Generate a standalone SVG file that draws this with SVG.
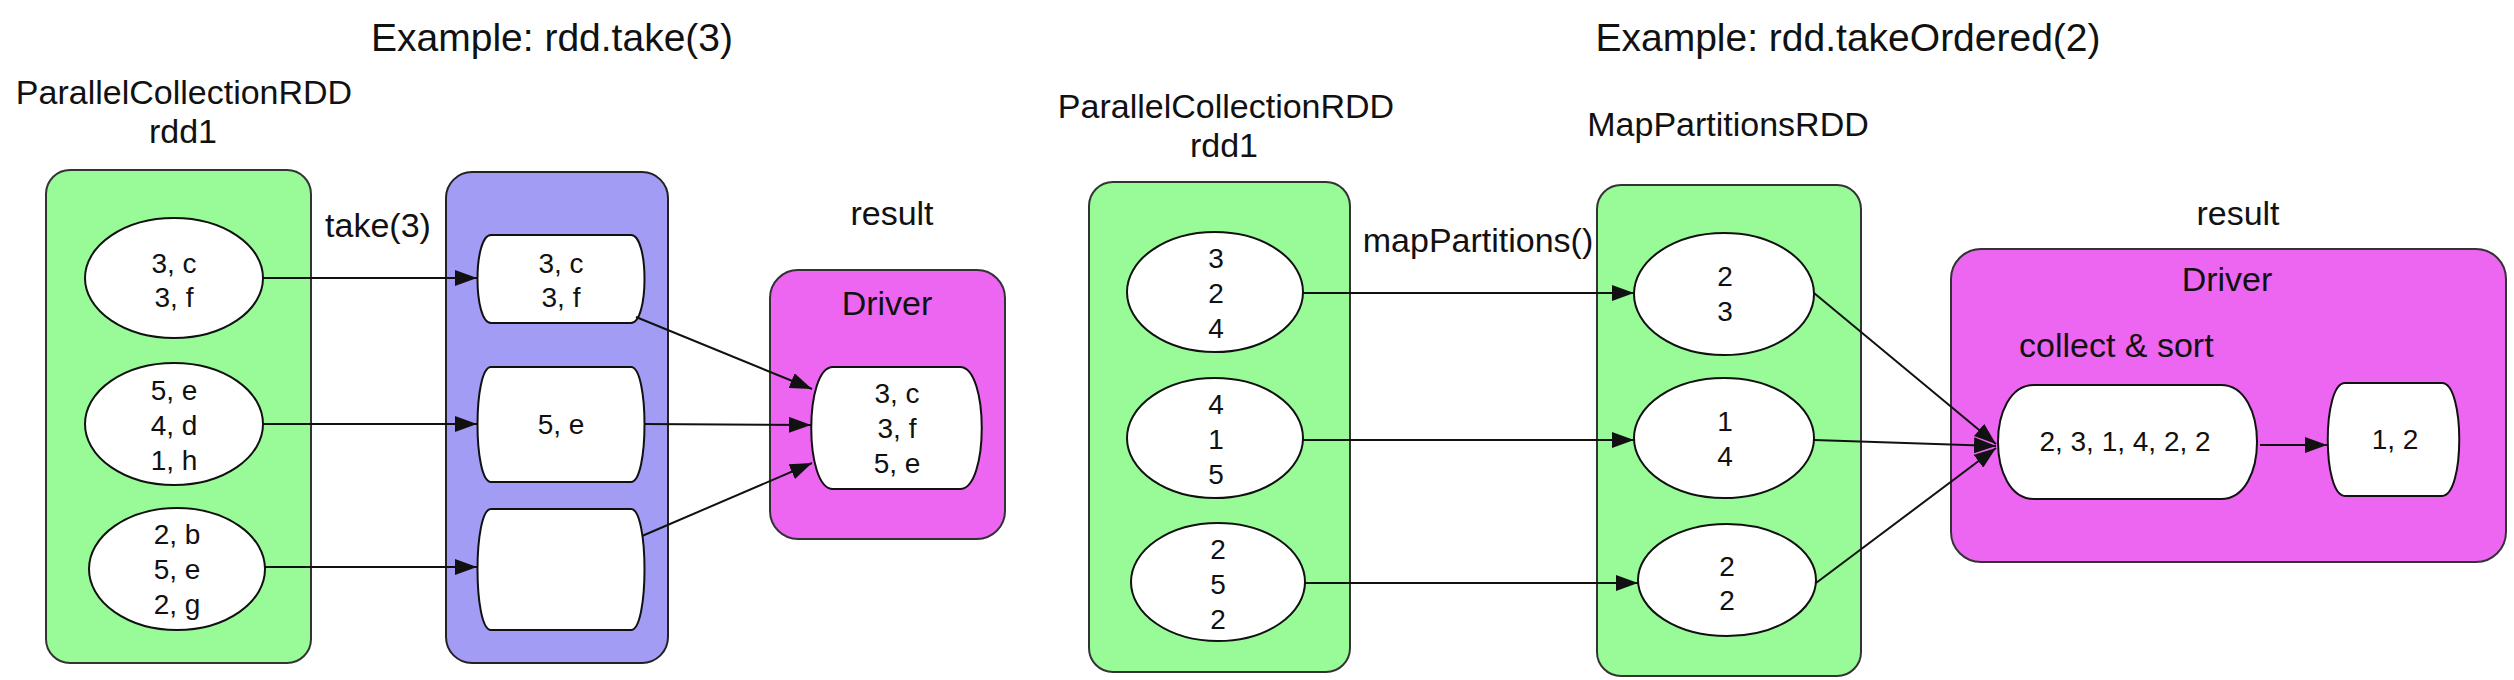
<svg xmlns="http://www.w3.org/2000/svg" width="2514" height="680" viewBox="0 0 2514 680">
<style>
text{font-family:"Liberation Sans",Arial,sans-serif;fill:#111;}
.title{font-size:39px;text-anchor:middle;}
.lbl{font-size:34px;text-anchor:middle;}
.lbls{font-size:34px;}
.nt{font-size:28px;text-anchor:middle;}
.green{fill:#98fb98;stroke:#333;stroke-width:2;}
.purple{fill:#a29cf5;stroke:#222;stroke-width:2;}
.magenta{fill:#ed66f2;stroke:#333;stroke-width:2;}
.node{fill:#fff;stroke:#111;stroke-width:2;}
.edge{fill:none;stroke:#111;stroke-width:2;marker-end:url(#arr);}
</style>
<defs>
<marker id="arr" viewBox="0 0 22 16" refX="22" refY="8" markerWidth="22" markerHeight="16" markerUnits="userSpaceOnUse" orient="auto">
<path d="M0,0 L22,8 L0,16 Z" fill="#111"/>
</marker>
</defs>
<rect width="2514" height="680" fill="#fff"/>

<!-- Diagram 1 -->
<text class="title" x="552" y="51">Example: rdd.take(3)</text>

<g id="rdd1a">
<text class="lbl" x="184" y="104">ParallelCollectionRDD</text>
<text class="lbl" x="183" y="143">rdd1</text>
<rect class="green" x="46" y="170" width="265" height="493" rx="24"/>
</g>
<g id="a_e1"><ellipse class="node" cx="174" cy="278" rx="89" ry="60"/><text class="nt" x="174" y="273">3, c</text><text class="nt" x="174" y="307">3, f</text></g>
<g id="a_e2"><ellipse class="node" cx="174" cy="424" rx="89" ry="61"/><text class="nt" x="174" y="400">5, e</text><text class="nt" x="174" y="435">4, d</text><text class="nt" x="174" y="470">1, h</text></g>
<g id="a_e3"><ellipse class="node" cx="177" cy="569" rx="88" ry="61"/><text class="nt" x="177" y="544">2, b</text><text class="nt" x="177" y="579">5, e</text><text class="nt" x="177" y="614">2, g</text></g>

<text class="lbl" x="378" y="237">take(3)</text>

<g id="takeRDD"><rect class="purple" x="446" y="172" width="222" height="491" rx="26"/></g>
<g id="a_p1"><path class="node" d="M491,235 H631 C649,235 649,323 631,323 H491 C473,323 473,235 491,235 Z"/><text class="nt" x="561" y="273">3, c</text><text class="nt" x="561" y="307">3, f</text></g>
<g id="a_p2"><path class="node" d="M491,367 H631 C649,367 649,482 631,482 H491 C473,482 473,367 491,367 Z"/><text class="nt" x="561" y="434">5, e</text></g>
<g id="a_p3"><path class="node" d="M491,509 H631 C649,509 649,630 631,630 H491 C473,630 473,509 491,509 Z"/></g>

<g id="driver1">
<text class="lbl" x="892" y="225">result</text>
<rect class="magenta" x="770" y="270" width="235" height="269" rx="28"/>
<text class="lbl" x="887" y="315">Driver</text>
</g>
<g id="a_res"><path class="node" d="M833,367 H960 C989,367 989,489 960,489 H833 C804,489 804,367 833,367 Z"/><text class="nt" x="897" y="403">3, c</text><text class="nt" x="897" y="438">3, f</text><text class="nt" x="897" y="473">5, e</text></g>

<!-- Diagram 2 -->
<text class="title" x="1848" y="51">Example: rdd.takeOrdered(2)</text>

<g id="rdd1b">
<text class="lbl" x="1226" y="118">ParallelCollectionRDD</text>
<text class="lbl" x="1224" y="157">rdd1</text>
<rect class="green" x="1089" y="182" width="261" height="490" rx="24"/>
</g>
<g id="b_e1"><ellipse class="node" cx="1215" cy="292" rx="88" ry="60"/><text class="nt" x="1216" y="268">3</text><text class="nt" x="1216" y="303">2</text><text class="nt" x="1216" y="338">4</text></g>
<g id="b_e2"><ellipse class="node" cx="1215" cy="438" rx="88" ry="60"/><text class="nt" x="1216" y="414">4</text><text class="nt" x="1216" y="449">1</text><text class="nt" x="1216" y="484">5</text></g>
<g id="b_e3"><ellipse class="node" cx="1218" cy="582" rx="87" ry="59"/><text class="nt" x="1218" y="559">2</text><text class="nt" x="1218" y="594">5</text><text class="nt" x="1218" y="629">2</text></g>

<text class="lbl" x="1478" y="252">mapPartitions()</text>

<g id="mapRDD">
<text class="lbl" x="1728" y="136">MapPartitionsRDD</text>
<rect class="green" x="1597" y="185" width="264" height="491" rx="24"/>
</g>
<g id="b_m1"><ellipse class="node" cx="1724" cy="294" rx="90" ry="61"/><text class="nt" x="1725" y="286">2</text><text class="nt" x="1725" y="321">3</text></g>
<g id="b_m2"><ellipse class="node" cx="1724" cy="438" rx="90" ry="60"/><text class="nt" x="1725" y="431">1</text><text class="nt" x="1725" y="466">4</text></g>
<g id="b_m3"><ellipse class="node" cx="1727" cy="580" rx="89" ry="56"/><text class="nt" x="1727" y="576">2</text><text class="nt" x="1727" y="610">2</text></g>

<g id="driver2">
<text class="lbl" x="2238" y="225">result</text>
<rect class="magenta" x="1951" y="249" width="555" height="313" rx="30"/>
<text class="lbl" x="2227" y="291">Driver</text>
<text class="lbls" x="2019" y="357">collect &amp; sort</text>
</g>
<g id="b_collect"><path class="node" d="M2034,385 H2221 C2269,385 2269,499 2221,499 H2034 C1986,499 1986,385 2034,385 Z"/><text class="nt" x="2125" y="451">2, 3, 1, 4, 2, 2</text></g>
<g id="b_res"><path class="node" d="M2345,383 H2442 C2465,383 2465,496 2442,496 H2345 C2322,496 2322,383 2345,383 Z"/><text class="nt" x="2395" y="449">1, 2</text></g>

<g id="connectors">
<line class="edge" x1="263" y1="278" x2="477" y2="278"/>
<line class="edge" x1="263" y1="424" x2="477" y2="424"/>
<line class="edge" x1="265" y1="567" x2="477" y2="567"/>
<line class="edge" x1="636" y1="317" x2="812" y2="389"/>
<line class="edge" x1="644" y1="424" x2="811" y2="425"/>
<line class="edge" x1="642" y1="536" x2="812" y2="463"/>
<line class="edge" x1="1303" y1="293" x2="1634" y2="293"/>
<line class="edge" x1="1303" y1="440" x2="1634" y2="440"/>
<line class="edge" x1="1305" y1="583" x2="1638" y2="583"/>
<line class="edge" x1="1814" y1="293" x2="1996" y2="444"/>
<line class="edge" x1="1814" y1="440" x2="1996" y2="446"/>
<line class="edge" x1="1816" y1="583" x2="1996" y2="448"/>
<line class="edge" x1="2260" y1="445" x2="2327" y2="445"/>
</g>
</svg>
